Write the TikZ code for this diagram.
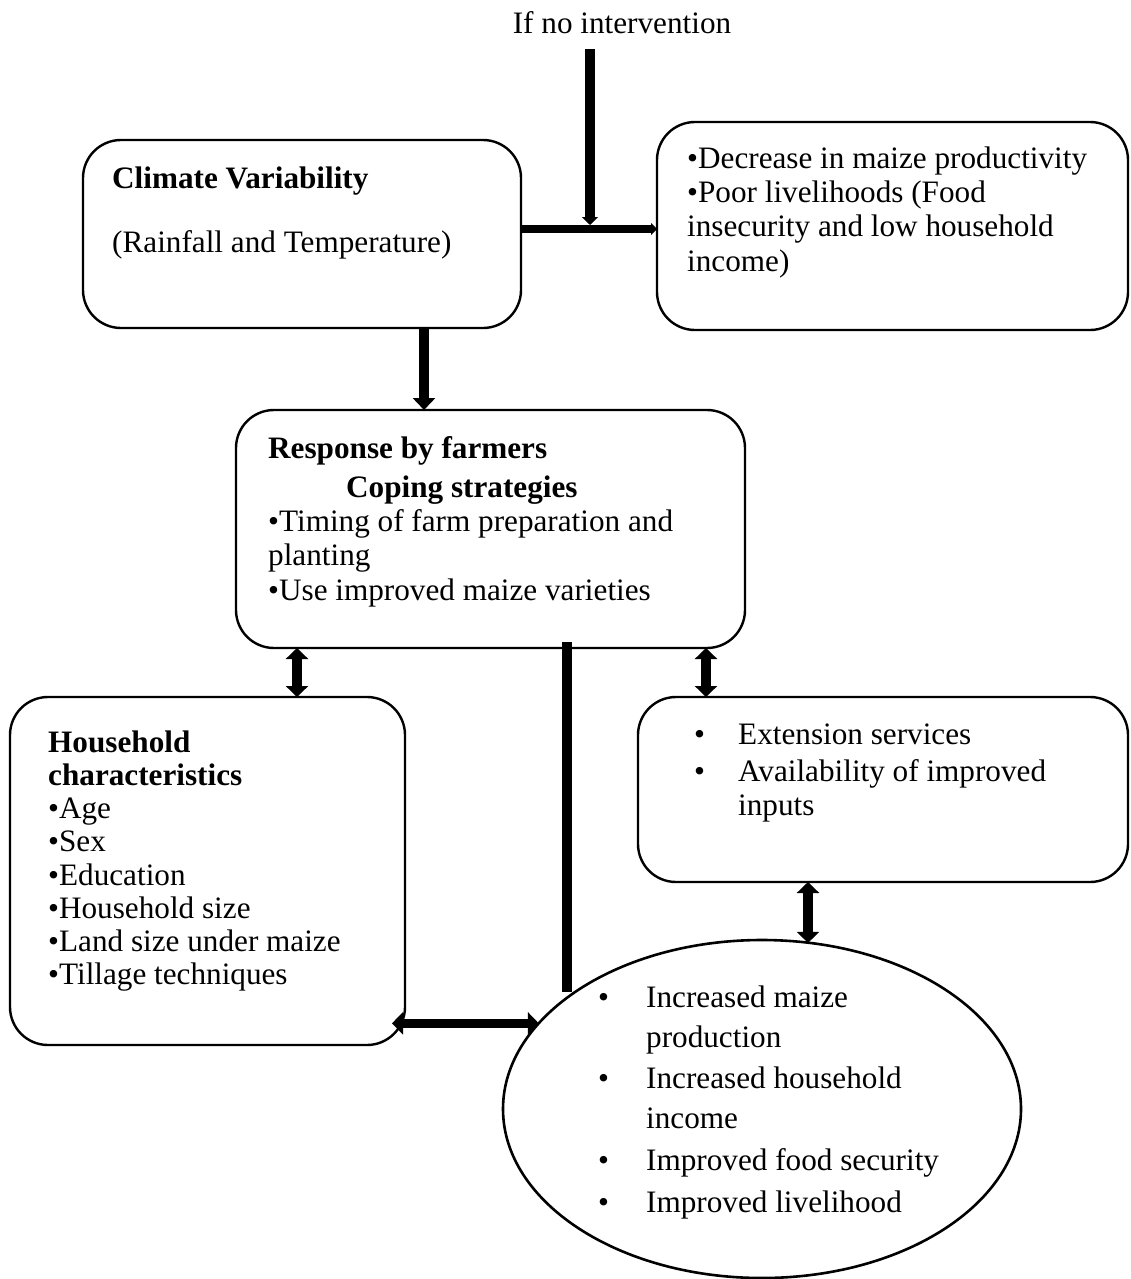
\documentclass[tikz,border=0pt]{standalone}
\usepackage{fontspec}
\setmainfont{Liberation Serif}
\usetikzlibrary{arrows.meta,shapes.geometric}
\begin{document}
\begin{tikzpicture}[x=1pt,y=-1pt,
  box/.style={draw, line width=2.4pt, rounded corners=38pt, inner sep=0pt, outer sep=0pt},
  oval/.style={draw, ellipse, line width=2.6pt, inner sep=0pt, outer sep=0pt},
  txt/.style={anchor=base west, inner sep=0pt, font=\fontsize{31.2}{34}\selectfont},
  btxt/.style={txt, font=\fontsize{31.2}{34}\selectfont\bfseries},
  arr/.style={line width=9.5pt, -{Triangle[width=22pt,length=12pt]}},
  darr/.style={line width=9.5pt, {Triangle[width=22pt,length=11pt]}-{Triangle[width=22pt,length=11pt]}},
  thinhead/.style={line width=8pt, -{Triangle[width=12pt,length=6pt]}}
]
\useasboundingbox[fill=white] (0,0) rectangle (1130,1279);

% boxes
\node[box, minimum width=438pt, minimum height=188pt] (clim) at (302,234) {};
\node[box, minimum width=471pt, minimum height=208pt] (tr) at (892.5,226) {};
\node[box, minimum width=509pt, minimum height=238pt] (resp) at (490.5,529) {};
\node[box, minimum width=395pt, minimum height=348pt] (hh) at (207.5,871) {};
\node[box, minimum width=490pt, minimum height=185pt] (ext) at (883,789.5) {};
\node[oval, minimum width=518pt, minimum height=338pt] (res) at (762,1109) {};

% top label
\node[anchor=base, inner sep=0pt, font=\fontsize{31.2}{34}\selectfont] (inter) at (622,34) {If no intervention};

% climate box text
\node[btxt] (c1) at (112,188) {Climate Variability};
\node[txt] (c2) at (112,252) {(Rainfall and Temperature)};

% top right text
\node[txt] (d1) at (687,168) {\textbullet Decrease in maize productivity};
\node[txt] (d2) at (687,202) {\textbullet Poor livelihoods (Food};
\node[txt] (d3) at (687,236) {insecurity and low household};
\node[txt] (d4) at (687,271) {income)};

% response text
\node[btxt] (r1) at (268,458) {Response by farmers};
\node[btxt] (r2) at (346,497) {Coping strategies};
\node[txt] (r3) at (268,531) {\textbullet Timing of farm preparation and};
\node[txt] (r4) at (268,565) {planting};
\node[txt] (r5) at (268,600) {\textbullet Use improved maize varieties};

% household text
\node[btxt] (h1) at (48,752) {Household};
\node[btxt] (h2) at (48,785) {characteristics};
\node[txt] (h3) at (48,818) {\textbullet Age};
\node[txt] (h4) at (48,851) {\textbullet Sex};
\node[txt] (h5) at (48,885) {\textbullet Education};
\node[txt] (h6) at (48,918) {\textbullet Household size};
\node[txt] (h7) at (48,951) {\textbullet Land size under maize};
\node[txt] (h8) at (48,984) {\textbullet Tillage techniques};

% extension text
\node[txt] (eb1) at (694,744) {\textbullet};
\node[txt] (e1) at (738,744) {Extension services};
\node[txt] (eb2) at (694,781) {\textbullet};
\node[txt] (e2) at (738,781) {Availability of improved};
\node[txt] (e3) at (738,815) {inputs};

% ellipse text
\node[txt] (ob1) at (598,1007) {\textbullet};
\node[txt] (o1) at (646,1007) {Increased maize};
\node[txt] (o2) at (646,1047) {production};
\node[txt] (ob2) at (598,1088) {\textbullet};
\node[txt] (o3) at (646,1088) {Increased household};
\node[txt] (o4) at (646,1128) {income};
\node[txt] (ob3) at (598,1170) {\textbullet};
\node[txt] (o5) at (646,1170) {Improved food security};
\node[txt] (ob4) at (598,1212) {\textbullet};
\node[txt] (o6) at (646,1212) {Improved livelihood};

% connectors
\coordinate (hl) at ([yshift=5pt]clim.east);
\draw[thinhead] (hl) -- (hl -| tr.west);
\coordinate (vt) at ([xshift=-32pt,yshift=-14pt]inter.south);
\draw[line width=10pt, -{Triangle[width=16pt,length=8pt]}] (vt) -- ([yshift=4pt]vt |- hl);

\coordinate (a1) at ([xshift=-66.5pt]resp.north |- clim.south);
\draw[arr] (a1) -- (a1 |- resp.north);

\coordinate (a2) at ([xshift=-193.5pt]resp.south);
\draw[darr] (a2) -- (a2 |- hh.north);
\coordinate (a3) at ([xshift=215.5pt]resp.south);
\draw[darr] (a3) -- (a3 |- ext.north);

\coordinate (vl) at ([xshift=76.5pt,yshift=6pt]resp.south);
\draw[line width=10pt] (vl) -- (vl |- res.148.6);

\coordinate (a4) at ([xshift=-75pt]ext.south);
\draw[darr] (a4) -- (a4 |- res.74.6);

\coordinate (hhR) at ([xshift=-13pt]hh.east);
\draw[darr] (hhR |- res.159) -- (res.159);
\end{tikzpicture}
\end{document}
